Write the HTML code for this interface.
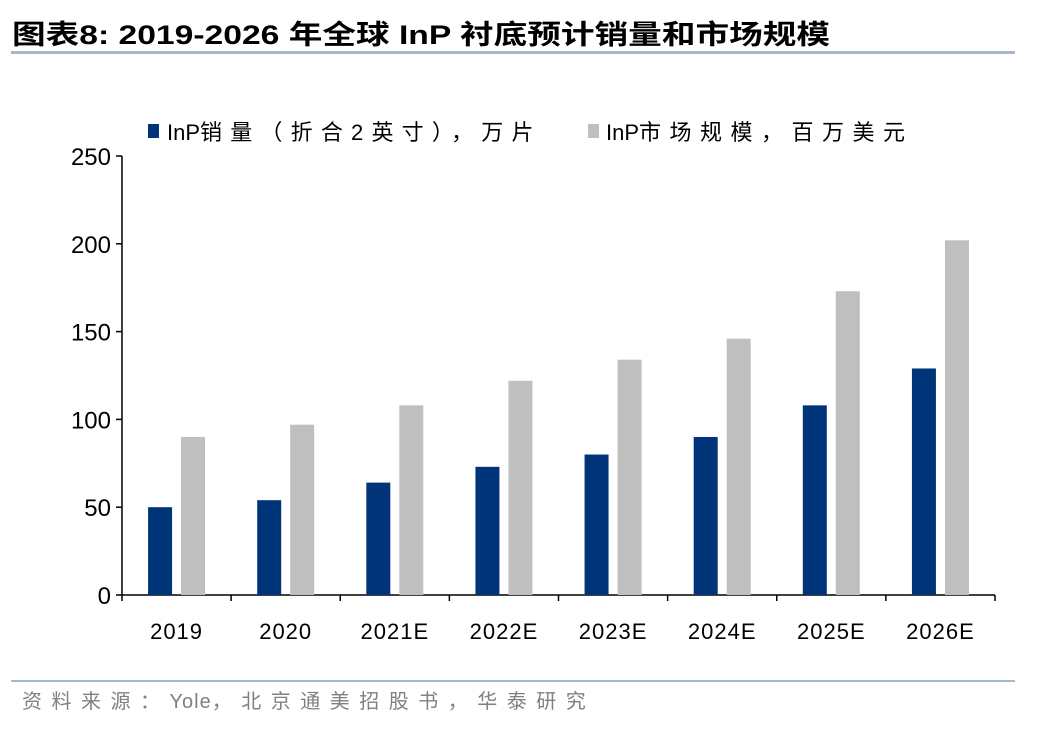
<!DOCTYPE html>
<html><head><meta charset="utf-8"><style>
body{margin:0;width:1048px;height:728px;background:#fff;overflow:hidden;font-family:"Liberation Sans","Noto Sans CJK SC",sans-serif}
</style></head><body>
<svg width="1048" height="728">
<text x="12" y="44" font-size="27" font-weight="bold" fill="#000" font-family="Liberation Sans,Noto Sans CJK SC,sans-serif" textLength="818" lengthAdjust="spacingAndGlyphs">图表8:  2019-2026 年全球 InP 衬底预计销量和市场规模</text>
<rect x="11" y="51" width="1004" height="3" fill="#a6b8cc"/>
<rect x="148" y="124" width="11" height="14" fill="#003478"/>
<text x="167" y="140" font-size="22">InP<tspan letter-spacing="8.2">销量（折合2英寸），万片</tspan></text>
<rect x="588" y="124" width="11" height="14" fill="#bfbfbf"/>
<text x="606" y="140" font-size="22">InP<tspan letter-spacing="8.5">市场规模，百万美元</tspan></text>
<g id="plot"></g>
<rect x="11" y="680" width="1004" height="2" fill="#a6b8cc"/>
<text x="22" y="708" font-size="20" fill="#808080"><tspan letter-spacing="9.5">资料来源：</tspan><tspan letter-spacing="1">Yole</tspan><tspan letter-spacing="9.5">，北京通美招股书，华泰研究</tspan></text>
</svg>
<script>
const categories=["2019","2020","2021E","2022E","2023E","2024E","2025E","2026E"];
const volume=[50,54,64,73,80,90,108,129];
const market=[90,97,108,122,134,146,173,202];
const yTicks=[0,50,100,150,200,250];
const NS="http://www.w3.org/2000/svg",g=document.getElementById("plot");
const x0=122,x1=995,yb=595,yt=156,ymax=250;
const y=v=>yb-(v/ymax)*(yb-yt);
const bw=(x1-x0)/categories.length;
const cx=i=>x0+bw*(i+0.5);
function mk(t,a){const e=document.createElementNS(NS,t);for(const k in a)e.setAttribute(k,a[k]);g.appendChild(e);return e;}
let ax=mk("line",{x1:x0,y1:yt,x2:x0,y2:yb,stroke:"#000","stroke-width":1.5});


let bx=mk("line",{x1:x0,y1:yb,x2:x1,y2:yb,stroke:"#000","stroke-width":1.5});


yTicks.forEach(v=>{
 let l=mk("line",{x1:x0-6,y1:y(v),x2:x0,y2:y(v),stroke:"#000","stroke-width":1.5});
 
 
 let t=mk("text",{x:111,y:y(v)+9,"font-size":24,"text-anchor":"end"});t.textContent=v;
 
 
});
for(let i=0;i<=categories.length;i++){
 let l=mk("line",{x1:x0+bw*i,y1:yb,x2:x0+bw*i,y2:yb+6,stroke:"#000","stroke-width":1.5});
 
 
}
categories.forEach((c,i)=>{
 let b=mk("rect",{x:cx(i)-28.5,y:y(volume[i]),width:24,height:yb-y(volume[i]),fill:"#003478"});
 
 
 let m=mk("rect",{x:cx(i)+4.5,y:y(market[i]),width:24,height:yb-y(market[i]),fill:"#bfbfbf"});
 
 
 let t=mk("text",{x:cx(i),y:639,"font-size":22,"letter-spacing":"1","text-anchor":"middle"});t.textContent=c;
 
 
});
</script>
</body></html>
